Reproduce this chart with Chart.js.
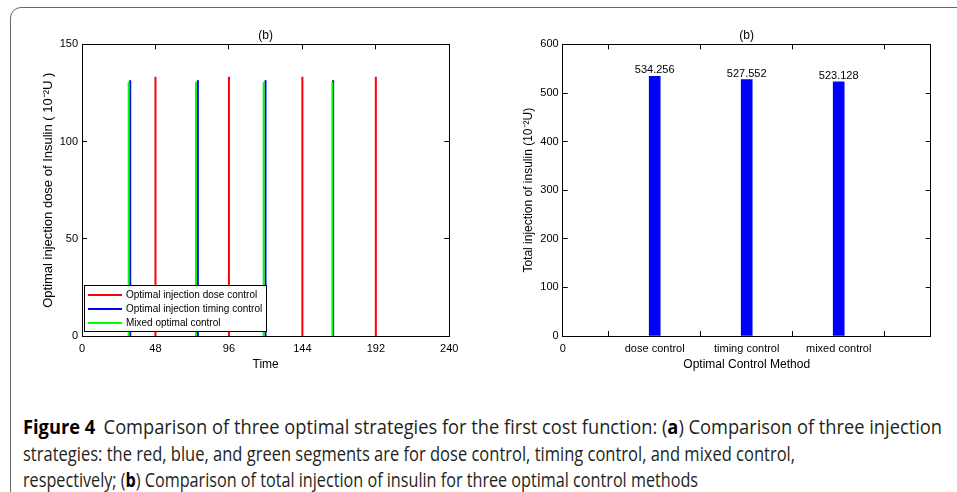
<!DOCTYPE html>
<html>
<head>
<meta charset="utf-8">
<script src="https://cdn.jsdelivr.net/npm/chart.js@4.4.1/dist/chart.umd.min.js"></script>
<style>
  html, body { margin: 0; padding: 0; background: #fff; }
  body { width: 957px; height: 492px; position: relative; overflow: hidden; }
  .frame { position: absolute; left: 10px; top: 7px; width: 1000px; height: 520px; border: 1.5px solid #666; border-radius: 11px; box-sizing: border-box; }
  .panel { position: absolute; top: 0; height: 380px; }
  #panelA { left: 0; width: 480px; }
  #panelB { left: 480px; width: 477px; }
  .caption { position: absolute; left: 23px; font-family: "Open Sans", sans-serif; font-size: 19.5px; line-height: 26px; color: #231f20; white-space: nowrap; transform-origin: 0 0; }
  .caption b { font-weight: 700; color: #000; }
  .caption .fig { margin-right: 9px; }
</style>
</head>
<body>
<div class="frame"></div>
<div class="panel" id="panelA"><canvas id="doseChart"></canvas></div>
<div class="panel" id="panelB"><canvas id="totalChart"></canvas></div>
<div class="caption" style="top:414px" data-w="919"><b class="fig">Figure 4</b>Comparison of three optimal strategies for the first cost function: (<b>a</b>) Comparison of three injection</div>
<div class="caption" style="top:441px" data-w="772">strategies: the red, blue, and green segments are for dose control, timing control, and mixed control,</div>
<div class="caption" style="top:467px" data-w="675">respectively; (<b>b</b>) Comparison of total injection of insulin for three optimal control methods</div>

<script>
// ── Data ─────────────────────────────────────────────────────────────────────
// injection pulses: time (h) and dose (10^-2 U) for each strategy
const doseTimes = [48, 96, 144, 192];
const doseLevel = 133.3;
const timingTimes = [31.5, 75.7, 119.9, 164.1];
const timingLevel = 131.6;
const mixedTimes = [30.5, 74.5, 118.7, 163.6];
const mixedLevel = 130.7;
const timeTicks = [0, 48, 96, 144, 192, 240];
const doseTicks = [0, 50, 100, 150];

// total insulin per method
const methods = ["dose control", "timing control", "mixed control"];
const totals = [534.256, 527.552, 523.128];
const methodTicks = [0, 1, 2, 3, 4];
const totalTicks = [0, 100, 200, 300, 400, 500, 600];

const INK = "#000";
const FONT = "'Liberation Sans', Arial, Helvetica, sans-serif";
Chart.defaults.font.family = FONT;
Chart.defaults.font.size = 11;
Chart.defaults.color = INK;
const LABEL_FONT = { size: 12 };

// vertical segments from 0 up to the dose at each injection time
function stems(times, level) {
  return times.flatMap(t => [{ x: t, y: 0 }, { x: t, y: level }, { x: t, y: null }]);
}

// axis with inward tick marks (box style); "mirror" axes carry only the marks
function axis(position, min, max, tickValues, size, extra) {
  return Object.assign({
    type: "linear", position, min, max,
    afterBuildTicks: s => { s.ticks = tickValues.map(v => ({ value: v })); },
    afterFit: s => {
      if (position === "top" || position === "bottom") s.height = size; else s.width = size;
    },
    grid: { drawOnChartArea: false, drawTicks: true, tickLength: -5, color: INK, lineWidth: 1 },
    border: { display: true, color: INK, width: 1 },
    ticks: { display: size > 0, color: INK, autoSkip: false, maxRotation: 0, padding: position === "bottom" ? 11 : 9 }
  }, extra || {});
}

const titleOpts = { display: true, text: "(b)", fullSize: false, color: INK, font: { size: 12, weight: "normal" }, padding: { top: 0, bottom: 2 } };

// legend drawn inside the plot, lower-left, boxed
const boxLegend = {
  id: "boxLegend",
  afterDatasetsDraw(chart) {
    const { ctx, chartArea } = chart;
    const w = 182, h = 46, rowH = 14;
    const x = Math.round(chartArea.left + 2), y = Math.round(chartArea.bottom - 5 - h);
    ctx.save();
    ctx.fillStyle = "#fff";
    ctx.fillRect(x, y, w, h);
    ctx.strokeStyle = INK;
    ctx.lineWidth = 1;
    ctx.strokeRect(x + 0.5, y + 0.5, w, h);
    ctx.font = "10px " + FONT;
    ctx.textBaseline = "middle";
    chart.data.datasets.forEach((ds, i) => {
      const cy = y + 10 + i * rowH;
      ctx.strokeStyle = ds.borderColor;
      ctx.lineWidth = 2;
      ctx.beginPath();
      ctx.moveTo(x + 4, cy);
      ctx.lineTo(x + 38, cy);
      ctx.stroke();
      ctx.fillStyle = INK;
      ctx.fillText(ds.label, x + 42, cy);
    });
    ctx.restore();
  }
};

// numeric value printed above each bar
const valueLabels = {
  id: "valueLabels",
  afterDatasetsDraw(chart) {
    const { ctx } = chart;
    const meta = chart.getDatasetMeta(0);
    ctx.save();
    ctx.font = "11px " + FONT;
    ctx.fillStyle = INK;
    ctx.textAlign = "center";
    ctx.textBaseline = "alphabetic";
    meta.data.forEach((bar, i) => ctx.fillText(totals[i].toFixed(3), bar.x, bar.y - 3));
    ctx.restore();
  }
};

const common = {
  responsive: true, maintainAspectRatio: false, animation: false, events: []
};

new Chart(document.getElementById("doseChart"), {
  type: "line",
  data: {
    datasets: [
      { label: "Optimal injection dose control", data: stems(doseTimes, doseLevel), borderColor: "#ff0000", order: 2 },
      { label: "Optimal injection timing control", data: stems(timingTimes, timingLevel), borderColor: "#0000ff", order: 1 },
      { label: "Mixed optimal control", data: stems(mixedTimes, mixedLevel), borderColor: "#00ff00", order: 0 }
    ].map(ds => Object.assign(ds, { xAxisID: "x", yAxisID: "y", borderWidth: 2, pointRadius: 0, spanGaps: false, tension: 0 }))
  },
  options: Object.assign({}, common, {
    layout: { padding: { top: 28, left: 40.2, right: 30.7, bottom: 8.5 } },
    plugins: { legend: { display: false }, tooltip: { enabled: false }, title: titleOpts },
    scales: {
      x: axis("bottom", 0, 240, timeTicks, 35.5, { title: { display: true, text: "Time", color: INK, font: LABEL_FONT, padding: 0 } }),
      xTop: axis("top", 0, 240, timeTicks, 0),
      y: axis("left", 0, 150, doseTicks, 41.8, { title: { display: true, text: "Optimal injection dose of Insulin ( 10⁻²U )", color: INK, font: { size: 13 }, padding: 0 } }),
      yRight: axis("right", 0, 150, doseTicks, 0)
    }
  }),
  plugins: [boxLegend]
});

const methodLabel = v => (v === 0 ? "0" : (methods[v - 1] || ""));

new Chart(document.getElementById("totalChart"), {
  type: "bar",
  data: {
    datasets: [{
      data: totals.map((v, i) => ({ x: i + 1, y: v })),
      backgroundColor: "#0000ff", borderWidth: 0, barThickness: 11,
      xAxisID: "x", yAxisID: "y"
    }]
  },
  options: Object.assign({}, common, {
    layout: { padding: { top: 28, left: 41.5, right: 26.3, bottom: 8.5 } },
    plugins: { legend: { display: false }, tooltip: { enabled: false }, title: titleOpts },
    scales: {
      x: axis("bottom", 0, 4, methodTicks, 35.5, {
        offset: false,
        ticks: { color: INK, autoSkip: false, maxRotation: 0, padding: 11, callback: methodLabel },
        title: { display: true, text: "Optimal Control Method", color: INK, font: LABEL_FONT, padding: 0 }
      }),
      xTop: axis("top", 0, 4, methodTicks, 0, { offset: false }),
      y: axis("left", 0, 600, totalTicks, 41.2, { title: { display: true, text: "Total injection of insulin (10⁻²U)", color: INK, font: LABEL_FONT, padding: 0 } }),
      yRight: axis("right", 0, 600, totalTicks, 0)
    }
  }),
  plugins: [valueLabels]
});

// squeeze each caption line to its set width
document.querySelectorAll(".caption").forEach(el => {
  const w = el.getBoundingClientRect().width;
  el.style.transform = "scaleX(" + (el.dataset.w / w) + ")";
});
</script>
</body>
</html>
